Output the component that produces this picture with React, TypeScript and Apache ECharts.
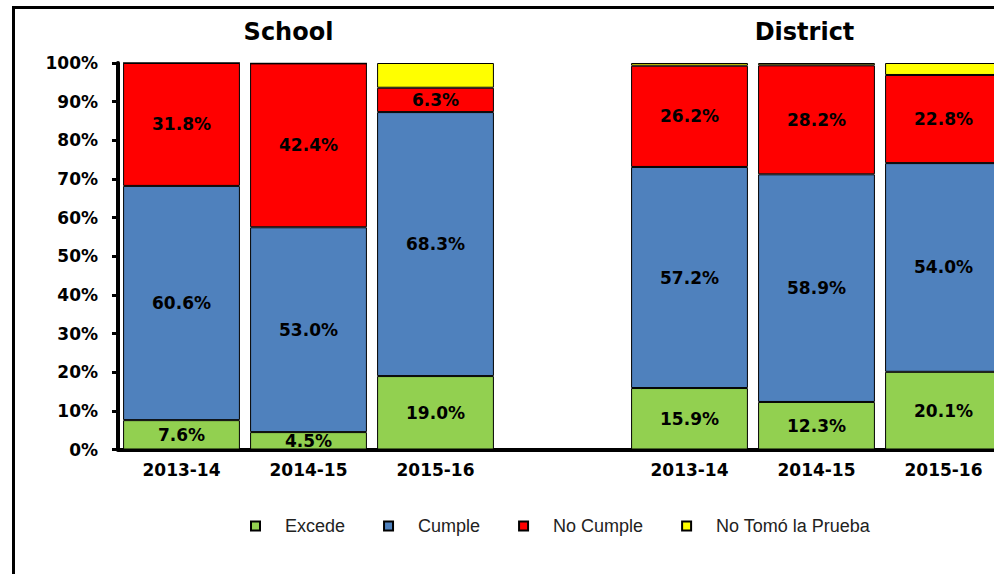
import React, { useEffect, useRef } from "react";
import * as echarts from "echarts";

const categories = ["2013-14", "2014-15", "2015-16", "", "2013-14", "2014-15", "2015-16"];
const excede = [7.6, 4.5, 19.0, "-", 15.9, 12.3, 20.1];
const cumple = [60.6, 53.0, 68.3, "-", 57.2, 58.9, 54.0];
const noCumple = [31.8, 42.4, 6.3, "-", 26.2, 28.2, 22.8];
const noTomo = [0, 0, 6.4, "-", 0.7, 0.6, 3.1];
const seriesNames = ["Excede", "Cumple", "No Cumple", "No Tomó la Prueba"];
const seriesColors = ["#92D050", "#4F81BD", "#FF0000", "#FFFF00"];
const panelTitles = ["School", "District"];

const BOLD = "'DejaVu Sans', sans-serif";

export default function App() {
  const ref = useRef<HTMLDivElement>(null);
  useEffect(() => {
    if (!ref.current) return;
    const chart = echarts.init(ref.current, null, { renderer: "svg" });
    const datasets = [excede, cumple, noCumple, noTomo];
    const series = datasets.map((d, i) => ({
      name: seriesNames[i],
      type: "bar",
      stack: "total",
      data: d,
      barCategoryGap: "8%",
      itemStyle: { color: seriesColors[i], borderColor: "#000", borderWidth: 1 },
      label: {
        show: i < 3,
        position: "inside",
        formatter: (p: any) => `${Number(p.value).toFixed(1)}%`,
        color: "#000",
        fontFamily: BOLD,
        fontWeight: "bold",
        fontSize: 17,
      },
    }));
    chart.setOption({
      animation: false,
      backgroundColor: "#fff",
      grid: { left: 118, top: 63, width: 889, height: 386.5, containLabel: false },
      xAxis: {
        type: "category",
        data: categories,
        axisLine: { lineStyle: { color: "#000", width: 4 } },
        axisTick: { show: false },
        axisLabel: {
          color: "#000",
          fontFamily: BOLD,
          fontWeight: "bold",
          fontSize: 17,
          margin: 12,
          interval: 0,
        },
      },
      yAxis: {
        type: "value",
        min: 0,
        max: 100,
        interval: 10,
        axisLine: { show: true, lineStyle: { color: "#000", width: 4 } },
        axisTick: { show: true, length: 6, lineStyle: { color: "#000", width: 3 } },
        splitLine: { show: false },
        axisLabel: {
          formatter: "{value}%",
          color: "#000",
          fontFamily: BOLD,
          fontWeight: "bold",
          fontSize: 17,
          margin: 20,
        },
      },
      legend: {
        data: seriesNames,
        left: 250,
        top: 517,
        padding: 0,
        icon: "rect",
        itemWidth: 9,
        itemHeight: 9,
        itemGap: 38,
        textStyle: {
          fontFamily: "'Liberation Sans', Arial, sans-serif",
          fontSize: 18,
          color: "#222",
          padding: [0, 0, 0, 20],
        },
      },
      graphic: [
        { type: "rect", shape: { x: 12, y: 6, width: 1010, height: 3 }, style: { fill: "#000" } },
        { type: "rect", shape: { x: 12, y: 6, width: 3, height: 600 }, style: { fill: "#000" } },
        {
          type: "text",
          x: 288.5,
          y: 32,
          style: {
            text: panelTitles[0],
            fontFamily: BOLD,
            fontWeight: "bold",
            fontSize: 24,
            fill: "#000",
            textAlign: "center",
            textVerticalAlign: "middle",
          },
        },
        {
          type: "text",
          x: 804.5,
          y: 32,
          style: {
            text: panelTitles[1],
            fontFamily: BOLD,
            fontWeight: "bold",
            fontSize: 24,
            fill: "#000",
            textAlign: "center",
            textVerticalAlign: "middle",
          },
        },
      ],
      series,
    });
    return () => chart.dispose();
  }, []);
  return (
    <div
      ref={ref}
      style={{ position: "fixed", left: 0, top: 0, width: 1010, height: 574, background: "#fff" }}
    />
  );
}
